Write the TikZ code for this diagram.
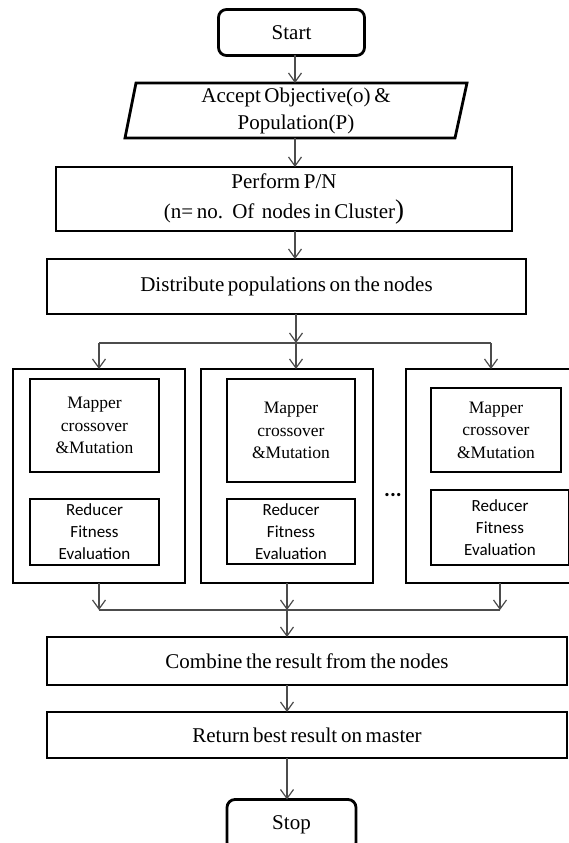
\documentclass[tikz,border=0pt]{standalone}
\usepackage{fontspec}
\setmainfont[WordSpace=0.7]{Liberation Serif}
\newfontfamily\calib{Carlito}
\usetikzlibrary{arrows.meta,calc}
\begin{document}
\begin{tikzpicture}[x=1pt,y=-1pt,
  bx/.style={draw=black, line width=2.8pt, inner sep=0pt, outer sep=0pt, align=center, font=\rmfamily\fontsize{21}{27}\selectfont},
  rbx/.style={bx, rounded corners=8pt},
  inb/.style={draw=black, line width=2.8pt, inner sep=0pt, outer sep=0pt, align=center, font=\rmfamily\fontsize{17.5}{22.5}\selectfont},
  redb/.style={inb, font=\calib\fontsize{17}{22}\selectfont},
  con/.style={draw=black!70, line width=1.2pt, -{Straight Barb[length=9pt,width=13pt]}},
  ln/.style={draw=black!70, line width=1.2pt}]
\useasboundingbox (0,0) rectangle (568,843);
% main column
\node[rbx, minimum width=146, minimum height=46] (start) at (291.5,32.5) {Start};
\node[minimum width=330, minimum height=55, inner sep=0pt, outer sep=0pt, align=center, font=\rmfamily\fontsize{21}{27}\selectfont] (acc) at (296,110.5) {Accept Objective(o) \&\\Population(P)};
\draw[line width=2.8pt, line join=miter] (125,138) -- (136,83) -- (467,83) -- (455,138) -- cycle;
\node[bx, minimum width=456, minimum height=64] (perf) at (284,199) {Perform P/N\\[3pt](n= no.~ Of~ nodes in Cluster{\fontsize{27}{27}\selectfont)}};
\node[bx, minimum width=479, minimum height=55] (dist) at (286.5,286.5) {Distribute populations on the nodes};
% cluster nodes
\node[bx, minimum width=172, minimum height=214] (L) at (99,476) {};
\node[bx, minimum width=172, minimum height=214] (M) at (287,476) {};
\node[bx, minimum width=172, minimum height=214] (R) at (492,476) {};
\node[inb, minimum width=129, minimum height=93] (mL) at (94.5,425.5) {Mapper\\crossover\\\&Mutation};
\node[redb, minimum width=129, minimum height=66] (rL) at (94.5,532) {Reducer\\Fitness\\Evaluation};
\node[inb, minimum width=128, minimum height=103] (mM) at (291,430.5) {Mapper\\crossover\\\&Mutation};
\node[redb, minimum width=128, minimum height=65] (rM) at (291,531.5) {Reducer\\Fitness\\Evaluation};
\node[inb, minimum width=130, minimum height=84] (mR) at (496,430) {Mapper\\crossover\\\&Mutation};
\node[redb, minimum width=138, minimum height=75] (rR) at (500,527.5) {Reducer\\Fitness\\Evaluation};
\node[font=\calib\bfseries\fontsize{22}{22}\selectfont, inner sep=0pt] (dots) at (393,495) {...};
% lower column
\node[bx, minimum width=520, minimum height=48] (comb) at (307,661) {Combine the result from the nodes};
\node[bx, minimum width=520, minimum height=46] (ret) at (307,735) {Return best result on master};
\node[rbx, minimum width=129, minimum height=51] (stop) at (291.5,825) {Stop};
% connectors top
\coordinate (ax) at (295,0);
\draw[con] (start.south -| ax) -- (acc.north -| ax);
\draw[con] (acc.south -| ax) -- (perf.north -| ax);
\draw[con] (perf.south -| ax) -- (dist.north -| ax);
\coordinate (j1) at (296,343);
\coordinate (jl) at (99,343);
\coordinate (jr) at (491,343);
\draw[con] (dist.south -| j1) -- (j1);
\draw[ln] (jl) -- (jr);
\draw[con] (j1) -- (M.north -| j1);
\draw[con] (jl) -- (L.north -| jl);
\draw[con] (jr) -- (R.north -| jr);
% connectors bottom
\coordinate (kl) at (99,610);
\coordinate (km) at (287,610);
\coordinate (kr) at (500,610);
\draw[con] (L.south -| kl) -- (kl);
\draw[con] (M.south -| km) -- (km);
\draw[con] (R.south -| kr) -- (kr);
\draw[ln] (kl) -- (kr);
\draw[con] (km) -- (comb.north -| km);
\draw[con] (comb.south -| km) -- (ret.north -| km);
\draw[con] (ret.south -| km) -- (stop.north -| km);
\end{tikzpicture}
\end{document}
